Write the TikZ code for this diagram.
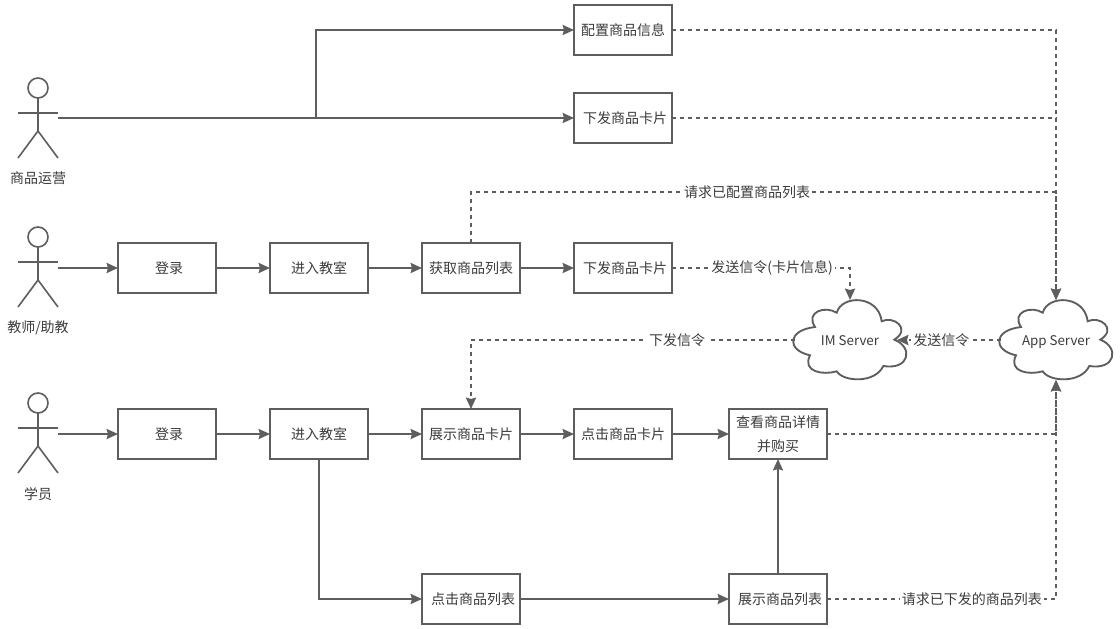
\documentclass[tikz,border=0pt]{standalone}
\usepackage{fontspec}
\setmainfont{Noto Sans CJK SC}
\usetikzlibrary{arrows.meta}
\definecolor{ln}{HTML}{5E5E5E}
\definecolor{tx}{HTML}{3C3C3C}
\tikzset{
  every node/.style={font=\fontsize{10.5}{18}\selectfont,text=tx,outer sep=0pt,inner sep=0pt},
  box/.style={draw=ln,line width=1.6pt,fill=white,minimum width=73.5pt,minimum height=37.5pt,align=center},
  actorbox/.style={minimum width=30pt,minimum height=60pt},
  cloudbox/.style={minimum width=82.5pt,minimum height=60pt,font=\fontsize{10}{18}\selectfont,text height=9pt,text depth=1pt},
  flow/.style={draw=ln,line width=1.6pt,-{Stealth[length=8.5pt,width=7.5pt,inset=1pt]}},
  link/.style={flow,dash pattern=on 3pt off 3pt},
  plainlink/.style={draw=ln,line width=1.6pt,dash pattern=on 3pt off 3pt},
  lbl/.style={fill=white,inner xsep=1.5pt,inner ysep=0.5pt},
  figure/.style={draw=ln,line width=1.2pt},
}
\newcommand{\stickman}[1]{%
  \begin{scope}[shift={(#1.north)}]
    \draw[figure] (0,10) circle[radius=7.5pt];
    \draw[figure] (0,20) -- (0,53);
    \draw[figure] (-20,35) -- (20,35);
    \draw[figure] (-20,80) -- (0,53) -- (20,80);
  \end{scope}}
\newcommand{\cloudshape}[1]{%
  \begin{scope}[shift={(#1.center)}]
  \draw[figure,line width=1.4pt] (-13.3,-27.3)
    .. controls (-8.3,-45.3) and (28.3,-45.3) .. (31.7,-18.7)
    .. controls (43.3,-24.7) and (61.7,-11.3) .. (44.3,-0.3)
    .. controls (63.3,7) and (60,30.3) .. (33.3,26)
    .. controls (25,43.7) and (-6.7,42) .. (-13.3,31.3)
    .. controls (-26.7,35.3) and (-48.3,32) .. (-40,15.3)
    .. controls (-63.3,10.3) and (-63.3,-9.7) .. (-35,-13)
    .. controls (-45,-28) and (-25,-34.7) .. (-13.3,-27.3) -- cycle;
  \end{scope}}
\begin{document}
\begin{tikzpicture}[x=0.75pt,y=-0.75pt]
\useasboundingbox[fill=white] (0,0) rectangle (1120,628);
% actors
\node[actorbox] (a1) at (38,118) {};
\node[actorbox] (a2) at (38,267) {};
\node[actorbox] (a3) at (38,433) {};
\stickman{a1}\stickman{a2}\stickman{a3}
\node (a1t) at (38,178) {商品运营};
\node (a2t) at (38,328) {教师/助教};
\node (a3t) at (38,494) {学员};
% boxes
\node[box] (cfg) at (623,30) {配置商品信息};
\node[box] (send1) at (623,118) {\hspace*{3pt}下发商品卡片};
\node[box] (login1) at (167,268) {\hspace*{3pt}登录};
\node[box] (room1) at (319,268) {进入教室};
\node[box] (get) at (471,268) {获取商品列表};
\node[box] (send2) at (623,268) {\hspace*{3pt}下发商品卡片};
\node[box] (login2) at (167,434) {\hspace*{3pt}登录};
\node[box] (room2) at (319,434) {进入教室};
\node[box] (show) at (471,434) {展示商品卡片};
\node[box] (click) at (623,434) {点击商品卡片};
\node[box] (detail) at (778,434) {查看商品详情\\并购买};
\node[box] (clicklist) at (471,599) {\hspace*{3pt}点击商品列表};
\node[box] (showlist) at (778,599) {\hspace*{3pt}展示商品列表};
% clouds
\node[cloudbox] (im) at (850,340) {IM Server};
\node[cloudbox] (app) at (1056,340) {App Server};
\cloudshape{im}\cloudshape{app}
\coordinate (imr) at ([xshift=-6pt]im.east);
% solid connectors
\coordinate (bend) at (316,118);
\coordinate (bendt) at (316,30);
\draw[flow] (a1.east) -- (bend) -- (bendt) -- (cfg.west);
\draw[flow] (a1.east) -- (send1.west);
\draw[flow] (a2.east |- login1.west) -- (login1.west);
\draw[flow] (login1) -- (room1);
\draw[flow] (room1) -- (get);
\draw[flow] (get) -- (send2);
\draw[flow] (a3.east |- login2.west) -- (login2.west);
\draw[flow] (login2) -- (room2);
\draw[flow] (room2) -- (show);
\draw[flow] (show) -- (click);
\draw[flow] (click) -- (detail);
\draw[flow] (room2.south) |- (clicklist.west);
\draw[flow] (clicklist) -- (showlist);
\draw[flow] (showlist) -- (detail);
% dashed connectors
\draw[link] (cfg.east) -| (app.north);
\draw[link] (send1.east) -| (app.north);
\coordinate (gettop) at (471,192);
\coordinate (getright) at (1056,192);
\draw[plainlink] (get.north) -- (gettop) -- node[lbl,pos=0.472] (l1) {请求已配置商品列表} (getright) -- (app.north);
\draw[link] (send2.east) -- node[lbl,pos=0.562] (l2) {发送信令(卡片信息)} (send2.east -| im.north) -- (im.north);
\draw[link] (app.west) -- node[lbl,pos=0.573] (l3) {发送信令} (imr);
\draw[link] (im.west) -- node[lbl,pos=0.364] (l4) {下发信令} (im.west -| show.north) -- (show.north);
\draw[link] (detail.east) -| (app.south);
\draw[link] (showlist.east) -- node[lbl,pos=0.633] (l5) {请求已下发的商品列表} (showlist.east -| app.south) -- (app.south);
\end{tikzpicture}
\end{document}
